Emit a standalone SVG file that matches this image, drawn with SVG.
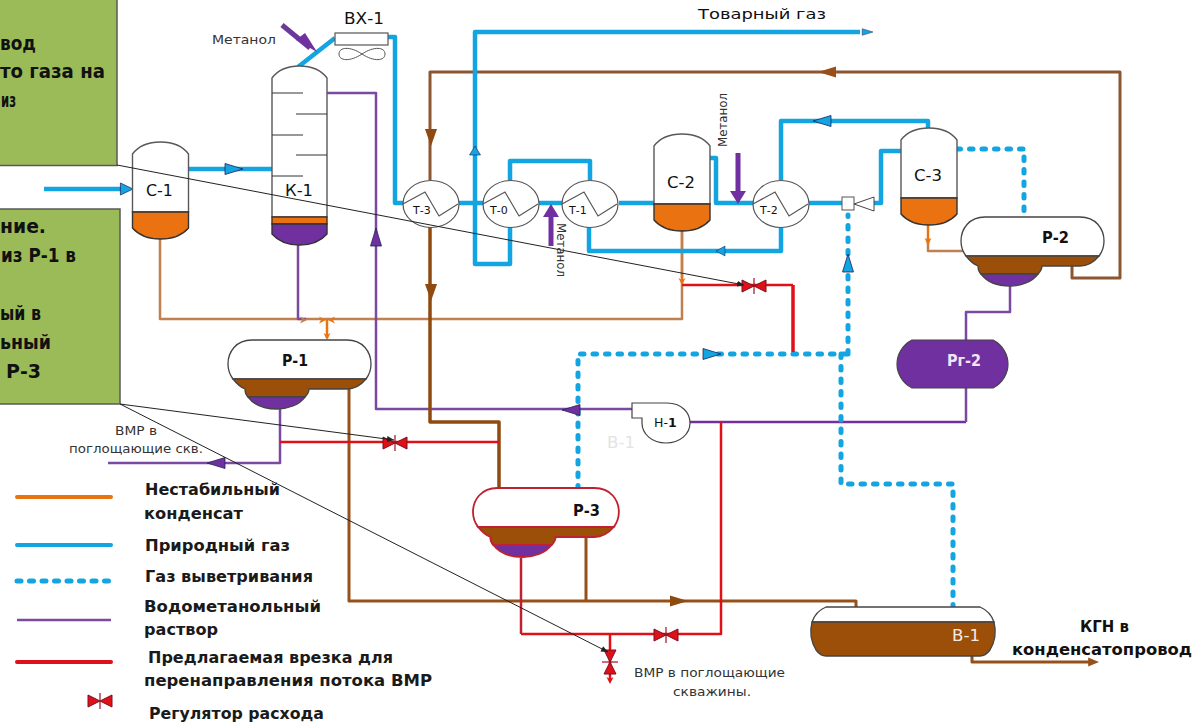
<svg xmlns="http://www.w3.org/2000/svg" xmlns:xlink="http://www.w3.org/1999/xlink" width="1196" height="724" viewBox="0 0 1196 724">
<style>
text{font-family:"DejaVu Sans","Liberation Sans",sans-serif;fill:#111}
.b{font-weight:bold}
.lbl{font-size:15px}
.sm{font-size:12px;fill:#333}
.leg{font-size:15px;font-weight:bold;fill:#1a1a1a}
.p{fill:none;stroke-linejoin:round}
.gas{stroke:#12a5e2;stroke-width:4.5}
.dash{stroke:#12a5e2;stroke-width:5;stroke-linecap:round;stroke-dasharray:3.5 9}
.wm{stroke:#7a4aa0;stroke-width:2.5}
.br{stroke:#98501a;stroke-width:3}
.br2{stroke:#8f4a10;stroke-width:3.5}
.br3{stroke:#8c5630;stroke-width:3}
.tan{stroke:#c08050;stroke-width:2.5}
.or{stroke:#e87410;stroke-width:2.5}
.red{stroke:#e01018;stroke-width:2.5}
.blk{stroke:#222;stroke-width:1;fill:none}
.fg{fill:#fff}.fo{fill:#ea7210}.fb{fill:#9c4f08}.fp{fill:#7030a0}
.green{fill:#9bbb59;stroke:#595959;stroke-width:1.5}
</style>
<defs>
<marker id="tiny" markerWidth="8" markerHeight="6" refX="7" refY="3" orient="auto"><path d="M0 0L7 3L0 6Z" fill="#222"/></marker>
<path id="ah" d="M-18 -5.5L0 0L-18 5.5Z"/>
<path id="ahs" d="M-7 -3.5L0 0L-7 3.5L-5 0Z"/>
<g id="valve"><path d="M-12 -6L0 0L-12 6Z M12 -6L0 0L12 6Z" fill="#e01018" stroke="#7a1020" stroke-width="1"/><path d="M0 -8V8" stroke="#a01020" stroke-width="1.2"/></g>
<g id="tank" stroke="#595959" stroke-width="1.4">
<path class="fg" d="M0 12C6 4 16 0 28 0C40 0 50 4 56 12V70H0Z"/>
<path class="fo" stroke="#333" d="M0 70H56V86C50 93 40 97 28 97C16 97 6 93 0 86Z"/>
</g>
<g id="sep">
<path class="fg" d="M24 0H119C135 0 143 12 143 24C143 30 141 35 138 39H5C2 35 0 30 0 24C0 12 8 0 24 0Z"/>
<path class="fb" d="M5 39H138C133 45 127 49 119 49H81C81 52 80 54 77 57H20C17 54 17 52 17 49C12 47 9 44 5 39Z"/>
<path class="fp" d="M20 57H77C71 65 60 69 49 69C37 69 26 65 20 57Z"/>
</g>
<g id="hx" stroke="#555" stroke-width="1.2" fill="none">
<ellipse rx="28" ry="23.5" fill="#fff"/>
<path d="M-28 0L-6 -12L8 12L27 0"/>
</g>
</defs>
<rect width="1196" height="724" fill="#fff"/>

<g id="note-1"><rect class="green" x="-5" y="-5" width="122" height="170.500"/>
<text class="b" x="0" y="50" font-size="19" textLength="36" lengthAdjust="spacingAndGlyphs">вод</text>
<text class="b" x="0" y="78" font-size="19" textLength="105" lengthAdjust="spacingAndGlyphs">то газа на</text>
<text class="b" x="1" y="107" font-size="19" textLength="15" lengthAdjust="spacingAndGlyphs">из</text></g>
<g id="note-2"><rect class="green" x="-5" y="209" width="125" height="195"/>
<text class="b" x="0" y="233" font-size="19" textLength="46" lengthAdjust="spacingAndGlyphs">ние.</text>
<text class="b" x="1" y="262" font-size="19" textLength="75" lengthAdjust="spacingAndGlyphs">из Р-1 в</text>
<text class="b" x="0" y="320" font-size="19" textLength="41" lengthAdjust="spacingAndGlyphs">ый в</text>
<text class="b" x="0" y="349" font-size="19" textLength="51" lengthAdjust="spacingAndGlyphs">ьный</text>
<text class="b" x="6" y="378" font-size="19" textLength="35" lengthAdjust="spacingAndGlyphs">Р-3</text></g>

<g id="connectors">
<path class="p tan" d="M160 238V319H682V285"/>
<path class="p or" d="M682 231V285"/>
<path class="p tan" d="M682 231V278"/>
<path class="p or" d="M327 319V338"/>
<path class="p wm" d="M298 245V319H306"/>
<path class="p tan" d="M928 238V251H963"/>
<path class="p or" d="M928 224V244"/>
<path class="p wm" d="M327 93H376V409H632"/>
<path class="p wm" d="M280 409V463H108"/>
<path class="p" stroke="#7030a0" stroke-width="2.5" d="M690 422H966"/>
<path class="p wm" d="M966 422V388M966 340V312H1010V286"/>
<path class="p br3" d="M1072 266V278H1120V72H430V180"/>
<path class="p br2" d="M430 227V422H499V490"/>
<path class="p br" d="M349 389V601H856V607M586 538V601M972 656V662H1094"/>
<path class="p gas" d="M298 67L335 38M388 37H395V203H403M459 203H483M539 203H562M619 203H654M710 158H716V203H754M809 203H842M874 203H881V151H901M928 128V121H781V180M781 227V251H589V227M590 180V161H510V180M510 227V264H475V32H860"/>
<path class="p gas" d="M188 169H272"/>
<path class="p gas" d="M44 189H125"/>
<path class="p dash" d="M957 149H1024V217"/>
<path class="p dash" d="M848 354V215"/>
<path class="p dash" d="M578 489V354H848"/>
<path class="p dash" d="M841 354V484H953V607"/>
<path class="p red" d="M682 285H793"/>
<path class="p" stroke="#e01018" stroke-width="3.500" d="M793 285V352"/>
<path class="p red" d="M280 442H499"/>
<path class="p" stroke="#c02030" stroke-width="2.500" d="M521 558V634"/>
<path class="p red" d="M521 634H721V422M610 634V680"/>
<path class="p" stroke="#6a3a9a" stroke-width="5" d="M282 25L310 48"/>
<path class="p" stroke="#7030a0" stroke-width="5" d="M551 246V215M738 153V192"/>
<g stroke="#225" stroke-width="0.800">
<use href="#ah" fill="#12a5e2" transform="translate(243,169)"/>
<use href="#ah" fill="#12a5e2" transform="translate(133,189) scale(.7,1.100)"/>
<use href="#ah" fill="#12a5e2" transform="translate(475,146) rotate(-90) scale(.5,1)"/>
<use href="#ah" fill="#12a5e2" transform="translate(813,121) rotate(180)"/>
<use href="#ah" fill="#12a5e2" transform="translate(716,251) rotate(180) scale(.5,.9)"/>
<use href="#ah" fill="#12a5e2" transform="translate(721,354)"/>
<use href="#ah" fill="#12a5e2" transform="translate(848,254) rotate(-90)"/>
<use href="#ah" fill="#12a5e2" transform="translate(873,32) scale(.6,.6)"/>
<use href="#ah" fill="#7030a0" transform="translate(562,410) rotate(180)"/>
<use href="#ah" fill="#7030a0" transform="translate(376,228) rotate(-90)"/>
<use href="#ah" fill="#7030a0" transform="translate(207,463) rotate(180)"/>
</g>
<g stroke="none">
<path d="M317 52L296 40L305 33Z" fill="#7030a0"/>
<path d="M551 204L559 217H543Z" fill="#7030a0"/>
<path d="M738 204L730 191H746Z" fill="#7030a0"/>
<use href="#ah" fill="#98501a" transform="translate(818,72) rotate(180)"/>
<use href="#ah" fill="#8f4a10" transform="translate(431,146) rotate(90) scale(.95,1.100)"/>
<use href="#ah" fill="#8f4a10" transform="translate(431,301) rotate(90) scale(.95,1.100)"/>
<use href="#ah" fill="#8f4a10" transform="translate(688,601)"/>
<use href="#ah" fill="#98501a" transform="translate(1099,662) scale(.6,.8)"/>
<use href="#ahs" fill="#e87410" transform="translate(682,285) rotate(90)"/>
<use href="#ahs" fill="#e87410" transform="translate(928,245) rotate(90)"/>
<use href="#ahs" fill="#c08050" transform="translate(307,320)"/>
<use href="#ahs" fill="#e87410" transform="translate(326,320)"/>
<use href="#ahs" fill="#e87410" transform="translate(328,320) rotate(180)"/>
<use href="#ahs" fill="#e87410" transform="translate(327,340) rotate(90)"/>
<use href="#ahs" fill="#e01018" transform="translate(610,684) rotate(90)"/>
</g>
</g>

<g id="v-valves">
<use href="#valve" transform="translate(754,286)"/>
<use href="#valve" transform="translate(395,443)"/>
<use href="#valve" transform="translate(666,635)"/>
<use href="#valve" transform="translate(610,662) rotate(90)"/>
</g>

<g id="BX-1"><rect x="335" y="33" width="53" height="12" fill="#fff" stroke="#555" stroke-width="1.200"/>
<path d="M362 54C350 46 339 47 339 54C339 61 350 62 362 54C374 46 385 47 385 54C385 61 374 62 362 54Z" fill="none" stroke="#555" stroke-width="1"/>
<text x="344" y="24" font-size="16" textLength="40" lengthAdjust="spacingAndGlyphs">ВХ-1</text></g>
<text x="212" y="44" class="sm" font-size="13" textLength="64" lengthAdjust="spacingAndGlyphs">Метанол</text>

<g id="C-1"><use href="#tank" transform="translate(132.500,142)"/><text x="146" y="196" font-size="16" textLength="27" lengthAdjust="spacingAndGlyphs">С-1</text></g>
<g id="K-1" stroke="#595959" stroke-width="1.400">
<path class="fg" d="M272 78C278 70 288 66 299.500 66C311 66 321 70 327 78V217H272Z"/>
<rect class="fo" x="272" y="217" width="55" height="7" stroke="#4a3020"/>
<path class="fp" stroke="#333" d="M272 224H327V234C321 241 311 245 299.500 245C288 245 278 241 272 234Z"/>
<path d="M272 93H303M296 114H327M272 135H303M296 155H327M272 176H303" stroke="#333" stroke-width="1" fill="none"/>
<text x="285" y="196" font-size="16" stroke="none" textLength="28" lengthAdjust="spacingAndGlyphs">К-1</text></g>
<g id="C-2"><use href="#tank" transform="translate(654,134)"/><text x="667" y="188" font-size="16" textLength="28" lengthAdjust="spacingAndGlyphs">С-2</text></g>
<g id="C-3"><use href="#tank" transform="translate(901,128)"/><text x="914" y="181" font-size="16" textLength="28" lengthAdjust="spacingAndGlyphs">С-3</text></g>

<g id="T-3"><use href="#hx" transform="translate(431,204)"/><text x="413" y="214" font-size="11">Т-3</text></g>
<g id="T-0"><use href="#hx" transform="translate(511,204)"/><text x="490" y="214" font-size="11">Т-0</text></g>
<g id="T-1"><use href="#hx" transform="translate(590,204)"/><text x="569" y="214" font-size="11">Т-1</text></g>
<g id="T-2"><use href="#hx" transform="translate(781,204)"/><text x="760" y="214" font-size="11">Т-2</text></g>

<g id="mixer"><rect x="842" y="197" width="12" height="13" fill="#fff" stroke="#555"/><path d="M854 204L874 197V211Z" fill="#fff" stroke="#444"/></g>

<g id="P-1"><use href="#sep" stroke="#444" stroke-width="1.300" transform="translate(228,340)"/><text class="b" x="282" y="366" font-size="15" textLength="26" lengthAdjust="spacingAndGlyphs">Р-1</text></g>
<g id="P-2"><use href="#sep" stroke="#444" stroke-width="1.300" transform="translate(961,217)"/><text class="b" x="1042" y="243" font-size="15" textLength="27" lengthAdjust="spacingAndGlyphs">Р-2</text></g>
<g id="P-3"><use href="#sep" stroke="#c02030" stroke-width="1.800" transform="translate(473,488) scale(1.020,1)"/><text class="b" x="573" y="516" font-size="15" textLength="27" lengthAdjust="spacingAndGlyphs">Р-3</text></g>
<g id="Rg-2"><path class="fp" stroke="#444" stroke-width="1.200" d="M912 340H993C1003 345 1008 355 1008 364C1008 373 1003 383 993 388H912C902 383 897 373 897 364C897 355 902 345 912 340Z"/><text class="b" x="947" y="366" font-size="15" style="fill:#f0e6f5" textLength="34" lengthAdjust="spacingAndGlyphs">Рг-2</text></g>
<g id="H-1"><path d="M632 403H667C682 403 690 413 690 423C690 434 680 443 666 443C652 443 642 434 642 423V418H632Z" fill="#fff" stroke="#444" stroke-width="1.200"/><text x="654" y="427" font-size="12.500">Н-<tspan class="b">1</tspan></text></g>
<g id="V-1" stroke="#444" stroke-width="1.300"><path class="fg" d="M826 607H980C987 610 992 616 994 622H812C814 616 819 610 826 607Z"/>
<path class="fb" d="M812 622H994C996 630 996 640 990 650C987 654 984 656 980 656H826C822 656 819 654 816 650C810 640 810 630 812 622Z"/>
<text x="952" y="641" font-size="15" stroke="none" style="fill:#f4ece4" textLength="28" lengthAdjust="spacingAndGlyphs">В-1</text></g>

<g id="leader-lines">
<path class="blk" marker-end="url(#tiny)" d="M117 165L744 285"/>
<path class="blk" marker-end="url(#tiny)" d="M120 404L394 440"/>
<path class="blk" marker-end="url(#tiny)" d="M120 404L608 652"/>
</g>

<text x="698" y="19" font-size="14.500" textLength="128" lengthAdjust="spacingAndGlyphs">Товарный газ</text>
<text class="sm" transform="translate(557,223) rotate(90)" textLength="54" lengthAdjust="spacingAndGlyphs">Метанол</text>
<text class="sm" transform="translate(727,147) rotate(-90)" textLength="54" lengthAdjust="spacingAndGlyphs">Метанол</text>
<text x="607" y="448" font-size="15" style="fill:#e4e4e4" textLength="28" lengthAdjust="spacingAndGlyphs">В-1</text>
<text class="sm" x="115" y="435" textLength="42" lengthAdjust="spacingAndGlyphs">ВМР в</text>
<text class="sm" x="69" y="453" textLength="134" lengthAdjust="spacingAndGlyphs">поглощающие скв.</text>
<text class="sm" x="634" y="677" textLength="151" lengthAdjust="spacingAndGlyphs">ВМР в поглощающие</text>
<text class="sm" x="673" y="696" textLength="78" lengthAdjust="spacingAndGlyphs">скважины.</text>
<text class="b" x="1080" y="632" font-size="15" textLength="49" lengthAdjust="spacingAndGlyphs">КГН в</text>
<text class="b" x="1012" y="655" font-size="15" textLength="180" lengthAdjust="spacingAndGlyphs">конденсатопровод</text>

<g id="legend">
<path d="M17 497H111" stroke="#e87410" stroke-width="4" stroke-linecap="round"/>
<path d="M17 545H111" stroke="#12a5e2" stroke-width="4" stroke-linecap="round"/>
<path d="M17 581H111" stroke="#12a5e2" stroke-width="5" stroke-linecap="round" stroke-dasharray="4 8.500"/>
<path d="M17 620H111" stroke="#7a4aa0" stroke-width="2.500"/>
<path d="M17 662H111" stroke="#e01018" stroke-width="4" stroke-linecap="round"/>
<use href="#valve" transform="translate(100,701)"/>
<text class="leg" x="145" y="495" textLength="135" lengthAdjust="spacingAndGlyphs">Нестабильный</text>
<text class="leg" x="144" y="519" textLength="99" lengthAdjust="spacingAndGlyphs">конденсат</text>
<text class="leg" x="145" y="551" textLength="145" lengthAdjust="spacingAndGlyphs">Природный газ</text>
<text class="leg" x="145" y="582" textLength="168" lengthAdjust="spacingAndGlyphs">Газ выветривания</text>
<text class="leg" x="144" y="612" textLength="177" lengthAdjust="spacingAndGlyphs">Водометанольный</text>
<text class="leg" x="144" y="635" textLength="74" lengthAdjust="spacingAndGlyphs">раствор</text>
<text class="leg" x="148" y="663" textLength="245" lengthAdjust="spacingAndGlyphs">Предлагаемая врезка для</text>
<text class="leg" x="144" y="686" textLength="288" lengthAdjust="spacingAndGlyphs">перенаправления потока ВМР</text>
<text class="leg" x="149" y="719" textLength="175" lengthAdjust="spacingAndGlyphs">Регулятор расхода</text>
</g>
</svg>
